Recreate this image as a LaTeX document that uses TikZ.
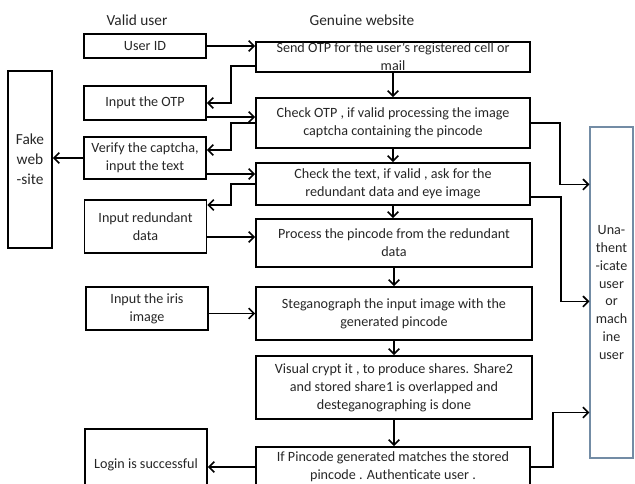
\documentclass[tikz,border=0pt]{standalone}
\usepackage{fontspec}
\setmainfont{Carlito}
\usetikzlibrary{arrows.meta, calc}
\definecolor{slate}{RGB}{115,140,165}
\tikzstyle{arrow} = [line width=1.2pt,-{Straight Barb[length=4pt,width=8pt]}]
\tikzstyle{box} = [draw, line width=1.2pt, align=center, inner sep=0pt, text=black!85, font=\fontsize{10.6}{13.5}\selectfont]
\tikzstyle{lbox} = [box, minimum width=91.5pt]
\tikzstyle{mbox} = [box, minimum width=205.5pt]
\tikzstyle{head} = [text=black!85, font=\fontsize{11.5}{13}\selectfont]

\begin{document}
\begin{tikzpicture}[x=0.75pt, y=-0.75pt]
	\useasboundingbox (0,0) rectangle (635,483);
	\node[head] (valid) at (137,20) {Valid user};
	\node[head] (genuine) at (362,20) {Genuine website};
	% user side
	\node[lbox, minimum height=18pt] (uid) at (145,46) {User ID};
	\node[lbox, minimum height=25.5pt] (otp) at (145,103) {Input the OTP};
	\node[lbox, minimum height=31.5pt] (verify) at (145,158) {Verify the captcha,\\input the text};
	\node[lbox, minimum height=39.75pt] (redund) at (145.5,226.5) {Input redundant\\data};
	\node[lbox, minimum height=32.25pt] (iris) at (147,308.5) {Input the iris\\image};
	\node[lbox, minimum height=53.25pt] (login) at (146,464.5) {Login is successful};
	\node[box, minimum width=33pt, minimum height=132.75pt, font=\fontsize{11.5}{15}\selectfont] (fake) at (30,159.5) {Fake\\web\\-site};
	% website side
	\node[mbox, minimum height=22.5pt] (send) at (393,57) {Send OTP for the user’s registered cell or\\mail};
	\node[mbox, minimum height=37.5pt] (chk) at (393,123) {Check OTP , if valid processing the image\\captcha containing the pincode};
	\node[mbox, minimum height=31.5pt] (chktext) at (393,184) {Check the text, if valid , ask for the\\redundant data and eye image};
	\node[mbox, minimum width=207pt, minimum height=36pt] (process) at (394,243) {Process the pincode from the redundant\\data};
	\node[mbox, minimum width=207pt, minimum height=39.75pt] (steg) at (394,313.5) {Steganograph the input image with the\\generated pincode};
	\node[mbox, minimum width=207pt, minimum height=47.25pt] (visual) at (394,387.5) {Visual crypt it , to produce shares. Share2\\and stored share1 is overlapped and\\desteganographing is done};
	\node[mbox, minimum height=30pt] (ifm) at (393,467) {If Pincode generated matches the stored\\pincode . Authenticate user .};
	\node[box, draw=slate, line width=0.8pt, minimum width=32.25pt, minimum height=248.25pt, font=\fontsize{10.6}{13.3}\selectfont] (unauth) at (611.5,292.5) {Una-\\thent\\-icate\\user\\or\\mach\\ine\\user};
	\coordinate (u1) at ($(unauth.north west)+(0,58)$);
	\coordinate (u2) at ($(unauth.north west)+(0,175)$);
	\coordinate (u3) at ($(unauth.north west)+(0,286)$);

	\draw[arrow] (uid.east) -- (uid.east -| send.west);
	\draw[arrow] ($(send.south west)+(0,-7)$) -- ++(-24,0) |- (otp.east);
	\draw[arrow] ($(otp.east)+(0,14)$) coordinate (a) -- (a -| chk.west);
	\draw[arrow] (chk.west) -- ++(-24,0) |- ($(verify.east)+(0,-8)$);
	\draw[arrow] (verify.west) -- (verify.west -| fake.east);
	\draw[arrow] ($(verify.east)+(0,16)$) coordinate (b) -- (b -| chktext.west);
	\draw[arrow] (chktext.west) -- ++(-24,0) |- ($(redund.east)+(0,-21.5)$);
	\draw[arrow] ($(redund.east)+(0,10.5)$) coordinate (c) -- (c -| process.west);
	\draw[arrow] (steg.west -| iris.east) -- (steg.west);
	\draw[arrow] (ifm.west) -- (ifm.west -| login.east);
	\foreach \a/\b in {send/chk, chk/chktext, chktext/process, process/steg, steg/visual, visual/ifm}
		\draw[arrow] (\a.south) -- (\a.south |- \b.north);
	\draw[arrow] (chk.east) -- ++(29,0) |- (u1);
	\draw[arrow] ($(chktext.east)+(0,13)$) -- ++(30,0) |- (u2);
	\draw[arrow] (ifm.east) -- ++(22,0) |- (u3);
\end{tikzpicture}
\end{document}
